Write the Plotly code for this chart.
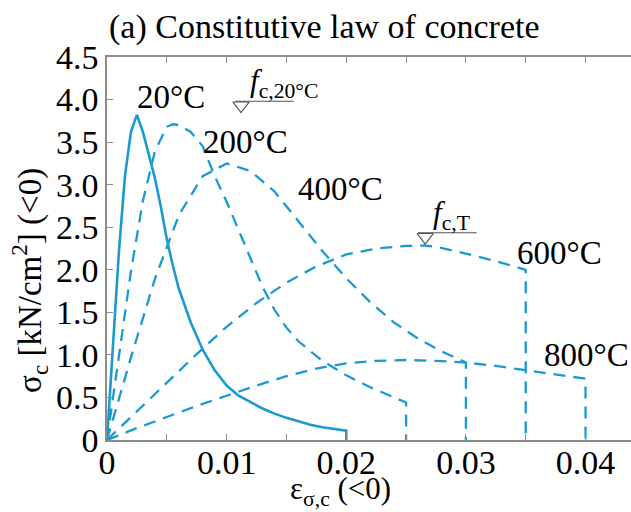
import plotly.graph_objects as go

# ---- data ----
eps_20 = [0, 0.0005, 0.001, 0.0015, 0.002, 0.0025, 0.003, 0.0035, 0.004, 0.0045, 0.005, 0.0055,
          0.006, 0.007, 0.008, 0.009, 0.010, 0.011, 0.012, 0.013, 0.014, 0.015, 0.016, 0.017,
          0.018, 0.019, 0.020, 0.020]
sig_20 = [0, 1.14, 2.22, 3.10, 3.62, 3.82, 3.62, 3.35, 3.08, 2.74, 2.36, 2.05,
          1.78, 1.38, 1.06, 0.82, 0.64, 0.52, 0.44, 0.37, 0.31, 0.26, 0.22, 0.18,
          0.15, 0.13, 0.11, 0]

eps_200 = [0, 0.001, 0.002, 0.003, 0.004, 0.005, 0.0055, 0.006, 0.007, 0.008, 0.009, 0.010,
           0.011, 0.012, 0.013, 0.014, 0.015, 0.016, 0.018, 0.020, 0.022, 0.025, 0.025]
sig_200 = [0, 1.01, 1.98, 2.81, 3.39, 3.68, 3.71, 3.70, 3.62, 3.45, 3.10, 2.80,
           2.46, 2.13, 1.80, 1.53, 1.32, 1.16, 0.93, 0.76, 0.62, 0.44, 0]

eps_400 = [0, 0.002, 0.004, 0.006, 0.008, 0.010, 0.012, 0.014, 0.016, 0.018, 0.020,
           0.022, 0.024, 0.026, 0.028, 0.030, 0.030]
sig_400 = [0, 0.97, 1.89, 2.64, 3.10, 3.25, 3.16, 2.92, 2.57, 2.22, 1.90,
           1.62, 1.38, 1.19, 1.04, 0.91, 0]

eps_600 = [0, 0.0025, 0.005, 0.0075, 0.010, 0.0125, 0.015, 0.0175, 0.020, 0.0225, 0.025,
           0.0265, 0.0275, 0.030, 0.0325, 0.035, 0.035]
sig_600 = [0, 0.34, 0.68, 1.01, 1.33, 1.61, 1.85, 2.04, 2.18, 2.25, 2.28,
           2.285, 2.27, 2.19, 2.10, 2.00, 0]

eps_800 = [0, 0.0025, 0.005, 0.0075, 0.010, 0.0125, 0.015, 0.0175, 0.020, 0.0225, 0.025,
           0.0275, 0.030, 0.0325, 0.035, 0.0375, 0.040, 0.040]
sig_800 = [0, 0.14, 0.27, 0.40, 0.52, 0.64, 0.75, 0.84, 0.90, 0.93, 0.94,
           0.93, 0.91, 0.87, 0.82, 0.77, 0.72, 0]

temp_labels = ["20°C", "200°C", "400°C", "600°C", "800°C"]
label_x = [0.00536, 0.01161, 0.01955, 0.03785, 0.04010]
label_y = [4.03, 3.50, 2.95, 2.20, 1.00]

x_tickvals = [0, 0.005, 0.01, 0.015, 0.02, 0.025, 0.03, 0.035, 0.04]
x_ticktext = ["0", "", "0.01", "", "0.02", "", "0.03", "", "0.04"]
y_tickvals = [0, 0.5, 1.0, 1.5, 2.0, 2.5, 3.0, 3.5, 4.0, 4.5]
y_ticktext = ["0", "0.5", "1.0", "1.5", "2.0", "2.5", "3.0", "3.5", "4.0", "4.5"]

# f_c annotation anchors (strain, stress)
fc20_mark = (0.0112, 3.93)
fc20_line = (0.0107, 0.0156, 3.98)
fcT_mark = (0.0266, 2.385)
fcT_line = (0.0260, 0.0309, 2.435)

BLUE = "#1b9ad2"
GRAY = "#8c8c8c"
FONT = "Liberation Serif, Times New Roman, serif"

fig = go.Figure()
fig.add_trace(go.Scatter(x=eps_20, y=sig_20, mode="lines",
                         line=dict(color=BLUE, width=2.6), showlegend=False))
for ex, sy in [(eps_200, sig_200), (eps_400, sig_400), (eps_600, sig_600), (eps_800, sig_800)]:
    fig.add_trace(go.Scatter(x=ex, y=sy, mode="lines",
                             line=dict(color=BLUE, width=2.3, dash="12px,8px"), showlegend=False))

# f_c markers
for (mx, my), (x0, x1, ly) in [(fc20_mark, fc20_line), (fcT_mark, fcT_line)]:
    fig.add_trace(go.Scatter(x=[x0, x1], y=[ly, ly], mode="lines",
                             line=dict(color="#555555", width=1.2), showlegend=False))
    fig.add_trace(go.Scatter(x=[mx], y=[my], mode="markers",
                             marker=dict(symbol="triangle-down-open", size=14,
                                         color="#555555", line=dict(width=1.2)),
                             showlegend=False))

annotations = []
for t, x, y in zip(temp_labels, label_x, label_y):
    annotations.append(dict(x=x, y=y, xref="x", yref="y", text=t, showarrow=False,
                            xanchor="center", yanchor="middle",
                            font=dict(family=FONT, size=33, color="black")))

annotations.append(dict(x=fc20_line[0] + 0.0011, y=fc20_line[2], xref="x", yref="y",
                        text="<i>f</i><sub>c,20°C</sub>", showarrow=False,
                        xanchor="left", yanchor="bottom", yshift=-4,
                        font=dict(family=FONT, size=31, color="black")))
annotations.append(dict(x=fcT_line[0] + 0.0011, y=fcT_line[2], xref="x", yref="y",
                        text="<i>f</i><sub>c,T</sub>", showarrow=False,
                        xanchor="left", yanchor="bottom", yshift=-4,
                        font=dict(family=FONT, size=31, color="black")))

annotations.append(dict(x=0.416, y=1.078, xref="paper", yref="paper",
                        text="(a) Constitutive law of concrete", showarrow=False,
                        xanchor="center", yanchor="middle",
                        font=dict(family=FONT, size=34, color="black")))
annotations.append(dict(x=0.445, y=-0.19, xref="paper", yref="paper",
                        text="ε<sub>σ,c</sub> (&lt;0)", showarrow=False,
                        xanchor="center", yanchor="bottom",
                        font=dict(family=FONT, size=31, color="black")))
annotations.append(dict(x=-0.147, y=0.418, xref="paper", yref="paper",
                        text="σ<sub>c</sub> [kN/cm<sup>2</sup>] (&lt;0)", showarrow=False,
                        textangle=-90, xanchor="center", yanchor="middle",
                        font=dict(family=FONT, size=33, color="black")))

fig.update_layout(
    width=631, height=512,
    margin=dict(l=107, r=0, t=57, b=72),
    paper_bgcolor="white", plot_bgcolor="white",
    annotations=annotations,
    xaxis=dict(range=[0, 0.0438], showline=True, linecolor=GRAY, linewidth=1.6,
               mirror="ticks", ticks="inside", ticklen=6, tickcolor=GRAY, tickwidth=1.2,
               tickvals=x_tickvals, ticktext=x_ticktext, showgrid=False, zeroline=False,
               ticklabelstandoff=-9,
               tickfont=dict(family=FONT, size=34, color="black")),
    yaxis=dict(range=[0, 4.5], showline=True, linecolor=GRAY, linewidth=1.6,
               mirror=False, ticks="inside", ticklen=6, tickcolor=GRAY, tickwidth=1.2,
               tickvals=y_tickvals, ticktext=y_ticktext, showgrid=False, zeroline=False,
               tickfont=dict(family=FONT, size=34, color="black")),
)

fig.write_html("out.html")
